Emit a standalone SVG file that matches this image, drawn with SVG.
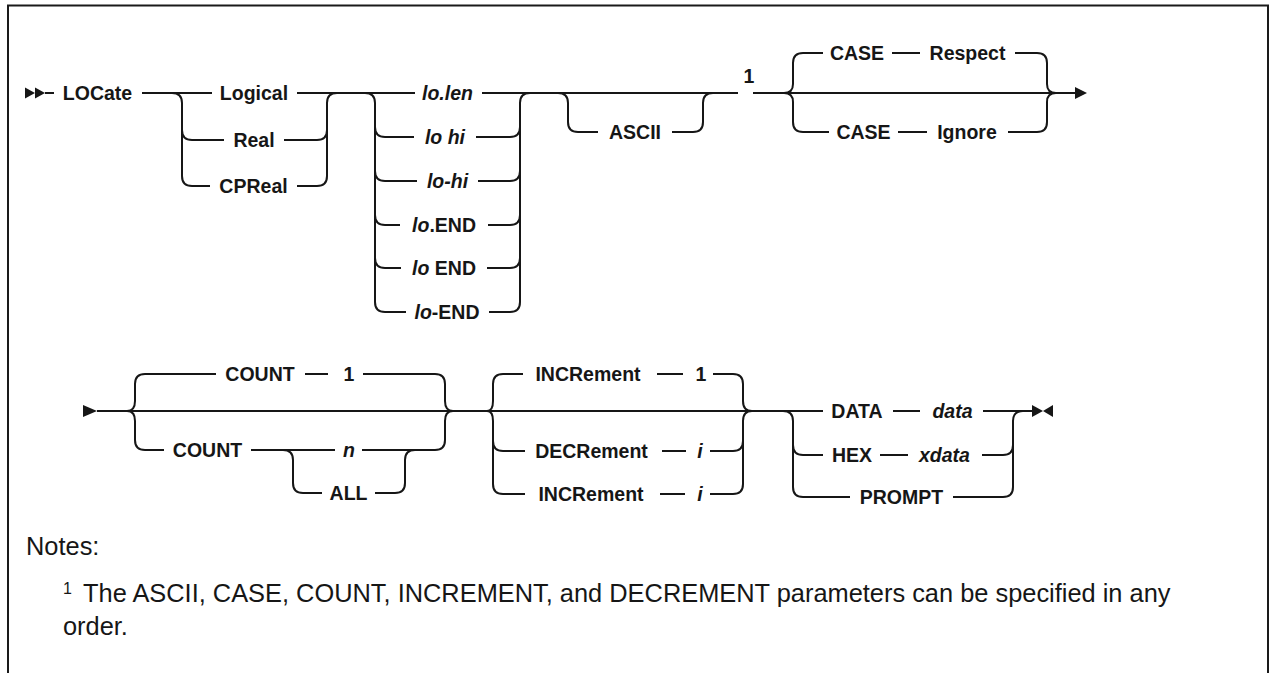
<svg xmlns="http://www.w3.org/2000/svg" width="1274" height="673" viewBox="0 0 1274 673">
<style>
.t{font-family:"Liberation Sans",Arial,sans-serif;font-size:19.5px;font-weight:bold;fill:#161616;text-anchor:middle}
.i{font-style:italic}
.c path{fill:none;stroke:#161616;stroke-width:2}
.ah{fill:#161616;stroke:none}
.note{font-family:"Liberation Sans",Arial,sans-serif;font-size:25.4px;fill:#161616}
</style>
<rect width="1274" height="673" fill="#fff"/>
<path d="M8,673 V5.5 H1268 V673" fill="none" stroke="#1a1a1a" stroke-width="2"/>
<g id="connectors" class="c">
<path d="M45,93 H54"/>
<path d="M142,93 H212"/>
<path d="M297,93 H415"/>
<path d="M482,93 H738"/>
<path d="M753,93 H1076"/>
<path d="M172,93 Q182,93 182,103 V176 Q182,186 192,186 H210"/>
<path d="M182,130 Q182,140 192,140 H224"/>
<path d="M284,140 H317 Q327,140 327,130"/>
<path d="M297,186 H317 Q327,186 327,176 V103 Q327,93 337,93"/>
<path d="M365,93 Q375,93 375,103 V302 Q375,312 385,312 H406"/>
<path d="M375,127 Q375,137 385,137 H414"/>
<path d="M375,171 Q375,181 385,181 H417"/>
<path d="M375,215 Q375,225 385,225 H400"/>
<path d="M375,258 Q375,268 385,268 H401"/>
<path d="M476,137 H510 Q520,137 520,127"/>
<path d="M478,181 H510 Q520,181 520,171"/>
<path d="M488,225 H510 Q520,225 520,215"/>
<path d="M487,268 H510 Q520,268 520,258"/>
<path d="M489,312 H510 Q520,312 520,302 V103 Q520,93 530,93"/>
<path d="M558,93 Q568,93 568,103 V122 Q568,132 578,132 H598"/>
<path d="M672,132 H693 Q703,132 703,122 V103 Q703,93 713,93"/>
<path d="M823,53 H803 Q793,53 793,63 V84 Q793,93 784,93"/>
<path d="M784,93 Q793,93 793,102 V122 Q793,132 803,132 H829"/>
<path d="M892,53 H920"/>
<path d="M898,132 H927"/>
<path d="M1015,53 H1037 Q1047,53 1047,63 V84 Q1047,93 1056,93"/>
<path d="M1008,132 H1037 Q1047,132 1047,122 V102 Q1047,93 1056,93"/>
<path d="M97,411 H823"/>
<path d="M127,411 Q135,411 135,401 V384 Q135,374 145,374 H216"/>
<path d="M127,411 Q135,411 135,421 V440 Q135,450 145,450 H164"/>
<path d="M305,374 H328"/>
<path d="M363,374 H435 Q445,374 445,384 V401 Q445,411 453,411"/>
<path d="M251,450 H335"/>
<path d="M283,450 Q293,450 293,460 V483 Q293,493 303,493 H322"/>
<path d="M375,493 H395 Q405,493 405,483 V460 Q405,450 415,450"/>
<path d="M362,450 H435 Q445,450 445,440 V421 Q445,411 453,411"/>
<path d="M487,411 Q493,411 493,401 V384 Q493,374 503,374 H523"/>
<path d="M487,411 Q493,411 493,421 V484 Q493,494 503,494 H525"/>
<path d="M493,441 Q493,451 503,451 H525"/>
<path d="M657,374 H683"/>
<path d="M713,374 H733 Q743,374 743,384 V401 Q743,411 752,411"/>
<path d="M662,451 H686"/>
<path d="M710,451 H733 Q743,451 743,441"/>
<path d="M660,494 H685"/>
<path d="M710,494 H733 Q743,494 743,484 V421 Q743,411 752,411"/>
<path d="M783,411 Q793,411 793,421 V487 Q793,497 803,497 H850"/>
<path d="M793,445 Q793,455 803,455 H823"/>
<path d="M893,411 H920"/>
<path d="M983,411 H1033"/>
<path d="M880,455 H908"/>
<path d="M982,455 H1003 Q1013,455 1013,445 V421 Q1013,411 1023,411"/>
<path d="M953,497 H1003 Q1013,497 1013,487 V445"/>
<polygon class="ah" points="25,87.5 35,93 25,98.5"/>
<polygon class="ah" points="35,87.5 45,93 35,98.5"/>
<polygon class="ah" points="1075,87 1087,93 1075,99"/>
<polygon class="ah" points="83,405 97,411 83,417"/>
<polygon class="ah" points="1032,405 1043,411 1032,417"/>
<polygon class="ah" points="1053,405 1043,411 1053,417"/>
</g>
<g id="n-locate"><text class="t" x="97.5" y="100">LOCate</text></g>
<g id="n-logical"><text class="t" x="254" y="100">Logical</text></g>
<g id="n-real"><text class="t" x="254" y="147">Real</text></g>
<g id="n-cpreal"><text class="t" x="253.5" y="193">CPReal</text></g>
<g id="n-lolen"><text class="t i" x="447.5" y="100">lo.len</text></g>
<g id="n-lohi"><text class="t i" x="445" y="144">lo hi</text></g>
<g id="n-lo-hi"><text class="t i" x="447.5" y="188">lo-hi</text></g>
<g id="n-lodotend"><text class="t" x="444" y="232"><tspan class="i">lo</tspan>.END</text></g>
<g id="n-loend"><text class="t" x="444" y="275"><tspan class="i">lo</tspan> END</text></g>
<g id="n-lo-end"><text class="t" x="447" y="319"><tspan class="i">lo</tspan>-END</text></g>
<g id="n-ascii"><text class="t" x="635" y="139">ASCII</text></g>
<g id="n-note1"><text class="t" x="749" y="83">1</text></g>
<g id="n-case-respect"><text class="t" x="857" y="60">CASE</text><text class="t" x="967.5" y="60">Respect</text></g>
<g id="n-case-ignore"><text class="t" x="863.5" y="139">CASE</text><text class="t" x="967" y="139">Ignore</text></g>
<g id="n-count1"><text class="t" x="260" y="381">COUNT</text><text class="t" x="349" y="381">1</text></g>
<g id="n-count"><text class="t" x="207.5" y="457">COUNT</text></g>
<g id="n-n"><text class="t i" x="349" y="457">n</text></g>
<g id="n-all"><text class="t" x="348.5" y="500">ALL</text></g>
<g id="n-incr1"><text class="t" x="588" y="381">INCRement</text><text class="t" x="701" y="381">1</text></g>
<g id="n-decri"><text class="t" x="591.5" y="458">DECRement</text><text class="t i" x="700" y="458">i</text></g>
<g id="n-incri"><text class="t" x="591" y="501">INCRement</text><text class="t i" x="700" y="501">i</text></g>
<g id="n-data"><text class="t" x="857" y="418">DATA</text><text class="t i" x="952.5" y="418">data</text></g>
<g id="n-hex"><text class="t" x="852" y="462">HEX</text><text class="t i" x="944.5" y="462">xdata</text></g>
<g id="n-prompt"><text class="t" x="901.5" y="504">PROMPT</text></g>
<g id="notes">
<text class="note" x="26" y="555">Notes:</text>
<text class="note" x="63" y="594" style="font-size:16px">1</text>
<text class="note" x="83" y="602">The ASCII, CASE, COUNT, INCREMENT, and DECREMENT parameters can be specified in any</text>
<text class="note" x="63" y="635">order.</text>
</g>
</svg>
